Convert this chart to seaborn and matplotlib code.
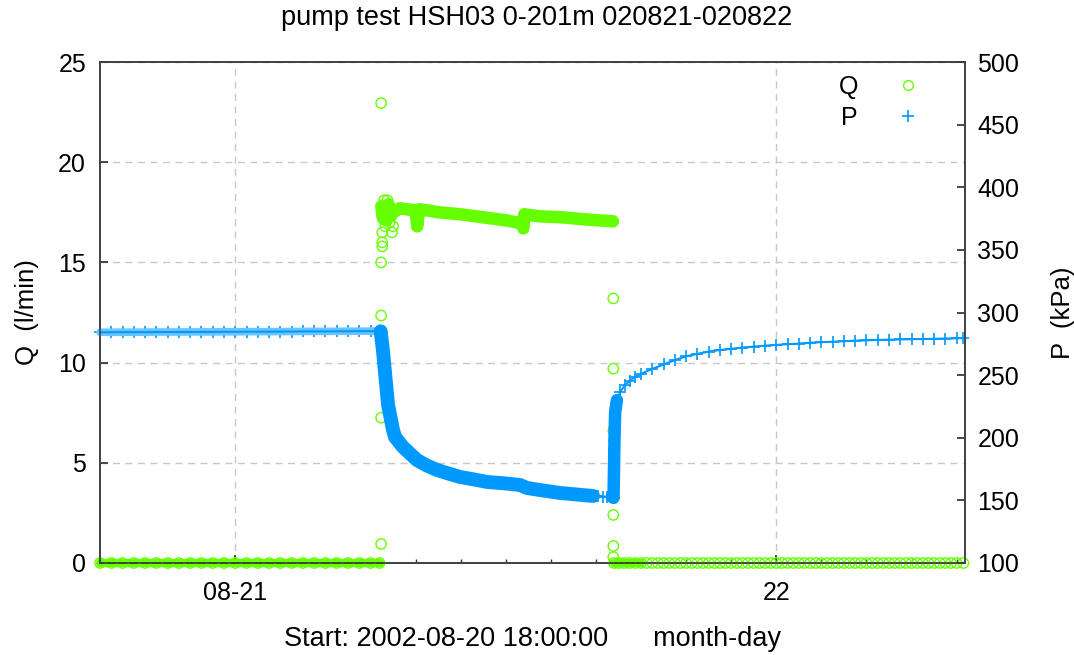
import matplotlib
matplotlib.use("Agg")
import numpy as np
import pandas as pd
import matplotlib.pyplot as plt
import seaborn as sns
from matplotlib.lines import Line2D
from matplotlib.ticker import MultipleLocator

# -------------------------------------------------
# Data, time in hours since 2002-08-20 18:00
# -------------------------------------------------

title = "pump test HSH03 0-201m 020821-020822"
tick_hours = [6, 30]
tick_labels = ["08-21", "22"]

# before pumping
hours_before = [0.0, 0.5, 1.0, 1.5, 2.0, 2.5, 3.0, 3.5, 4.0, 4.5, 5.0, 5.5, 6.0,
                6.5, 7.0, 7.5, 8.0, 8.5, 9.0, 9.5, 10.0, 10.5, 11.0, 11.5, 12.0, 12.4]
p_before = [284.2, 284.2, 284.3, 284.3, 284.3, 284.4, 284.4, 284.4, 284.5, 284.5,
            284.5, 284.6, 284.6, 284.7, 284.7, 284.7, 284.8, 284.8, 284.9, 284.9,
            284.9, 285.0, 285.0, 285.1, 285.1, 285.2]
q_before = [0, 0, 0, 0, 0, 0, 0, 0, 0, 0, 0, 0, 0,
            0, 0, 0, 0, 0, 0, 0, 0, 0, 0, 0, 0, 0]

# pumping: flow
hours_pumping = [12.48, 12.55, 12.6, 12.7, 12.8, 12.9, 13.0, 13.3, 13.6, 14.0, 14.07, 14.15,
                 14.5, 15.0, 16.0, 17.0, 18.0, 18.7, 18.78, 18.82, 19.5, 20.5, 21.5, 22.75]
q_pumping = [17.8, 17.2, 17.6, 17.1, 17.9, 17.3, 17.5, 17.7, 17.65, 17.6, 16.8, 17.65,
             17.6, 17.5, 17.4, 17.25, 17.1, 16.95, 16.7, 17.4, 17.3, 17.25, 17.15, 17.05]

# scattered flow readings at pump start / stop
hours_q_start = [12.47, 12.47, 12.47, 12.47, 12.47, 12.52, 12.52, 12.52, 12.6, 12.75,
                 12.95, 13.0, 12.65, 12.85]
q_start = [22.95, 15.0, 12.35, 7.25, 0.95, 16.0, 15.8, 16.5, 18.1, 18.1,
           16.5, 16.8, 16.8, 17.0]
hours_q_stop = [22.77, 22.77, 22.77, 22.77, 22.77, 22.77]
q_stop = [13.2, 9.7, 6.6, 2.4, 0.85, 0.3]

# pumping: drawdown
hours_drawdown = [12.45, 12.55, 12.64, 12.78, 13.0, 13.09, 13.44, 14.06, 14.5, 14.95,
                  15.5, 15.97, 16.5, 17.17, 18.0, 18.63, 18.94, 19.5, 20.41, 21.2, 21.87]
p_drawdown = [285.0, 270.0, 252.5, 226.0, 206.0, 200.5, 192.6, 182.2, 177.8, 174.3,
              171.2, 168.7, 167.0, 164.7, 163.5, 162.3, 159.9, 158.3, 155.9, 154.6, 153.5]
hours_late_pumping = [21.87, 22.1, 22.3, 22.5, 22.71]
p_late_pumping = [153.5, 153.2, 153.0, 152.9, 152.7]

# recovery
hours_rise = [22.71, 22.78, 22.80, 22.82, 22.85, 22.93]
p_rise = [152.7, 152.0, 175.0, 198.0, 220.0, 230.0]

hours_after = [22.93, 23.07, 23.29, 23.5, 23.73, 24.0, 24.5, 25.0, 25.5, 26.0, 26.5,
               27.0, 27.5, 28.0, 28.5, 29.0, 29.5, 30.0, 30.5, 31.0, 31.5, 32.0, 32.5,
               33.0, 33.5, 34.0, 34.5, 35.0, 35.5, 36.0, 36.5, 37.0, 37.5, 38.0, 38.3]
p_after = [230.0, 236.5, 242.0, 245.5, 248.5, 251.0, 255.0, 258.5, 262.0, 265.0, 267.0,
           268.8, 270.0, 271.0, 272.0, 272.8, 273.5, 274.1, 274.7, 275.2, 275.8, 276.3, 276.7,
           277.1, 277.5, 277.8, 278.1, 278.3, 278.5, 278.7, 278.8, 279.0, 279.2, 279.4, 279.6]

hours_q_after = [22.8, 23.0, 23.25, 23.5, 23.75, 24.0, 24.25, 24.5, 24.75, 25.0, 25.25,
                 25.5, 25.75, 26.0, 26.25, 26.5, 26.75, 27.0, 27.25, 27.5, 27.75, 28.0,
                 28.25, 28.5, 28.75, 29.0, 29.25, 29.5, 29.75, 30.0, 30.25, 30.5, 30.75,
                 31.0, 31.25, 31.5, 31.75, 32.0, 32.25, 32.5, 32.75, 33.0, 33.25, 33.5,
                 33.75, 34.0, 34.25, 34.5, 34.75, 35.0, 35.25, 35.5, 35.75, 36.0, 36.25,
                 36.5, 36.75, 37.0, 37.25, 37.5, 37.75, 38.0, 38.3]
q_after = [0, 0, 0, 0, 0, 0, 0, 0, 0, 0, 0,
           0, 0, 0, 0, 0, 0, 0, 0, 0, 0, 0,
           0, 0, 0, 0, 0, 0, 0, 0, 0, 0, 0,
           0, 0, 0, 0, 0, 0, 0, 0, 0, 0, 0,
           0, 0, 0, 0, 0, 0, 0, 0, 0, 0, 0,
           0, 0, 0, 0, 0, 0, 0, 0]

GREEN = "#66ff00"
BLUE = "#0099ff"

# -------------------------------------------------
# Figure
# -------------------------------------------------

sns.set_theme(style="white")
plt.rcParams["font.family"] = ["Liberation Sans", "DejaVu Sans"]
plt.rcParams["text.color"] = "black"
plt.rcParams["axes.labelcolor"] = "black"
plt.rcParams["xtick.color"] = "black"
plt.rcParams["ytick.color"] = "black"

fig = plt.figure(figsize=(10.74, 6.55), dpi=100)
ax = fig.add_axes([100 / 1074, 92 / 655, 865 / 1074, 501 / 655])
ax2 = ax.twinx()

q_before_df = pd.DataFrame({"hours": hours_before, "Q": q_before})
q_pump_df = pd.DataFrame({"hours": hours_pumping, "Q": q_pumping})
q_jump_df = pd.DataFrame({"hours": hours_q_start + hours_q_stop, "Q": q_start + q_stop})
q_after_df = pd.DataFrame({"hours": hours_q_after, "Q": q_after})
q_after_band = q_after_df[q_after_df["hours"] <= 24.0]

line_kw = dict(estimator=None, sort=False, legend=False, clip_on=False)
circle_kw = dict(marker="o", facecolor="none", edgecolor=GREEN, linewidth=1.0, s=55,
                 legend=False, clip_on=False, zorder=3)

# flow (left axis)
sns.lineplot(data=q_before_df, x="hours", y="Q", ax=ax, color=GREEN, lw=6, **line_kw)
sns.lineplot(data=q_pump_df, x="hours", y="Q", ax=ax, color=GREEN, lw=9, **line_kw)
sns.lineplot(data=q_after_band, x="hours", y="Q", ax=ax, color=GREEN, lw=6, **line_kw)
for d in (q_before_df, q_pump_df, q_jump_df, q_after_df):
    sns.scatterplot(data=d, x="hours", y="Q", ax=ax, **circle_kw)

# pressure (right axis)
p_before_df = pd.DataFrame({"hours": hours_before, "P": p_before})
p_thick = pd.DataFrame({"hours": hours_drawdown, "P": p_drawdown})
p_rise_df = pd.DataFrame({"hours": hours_rise, "P": p_rise})
p_all = pd.DataFrame({
    "hours": hours_before + hours_drawdown + hours_late_pumping + hours_rise + hours_after,
    "P": p_before + p_drawdown + p_late_pumping + p_rise + p_after,
})
sns.lineplot(data=p_before_df, x="hours", y="P", ax=ax2, color="#6cc4ff", lw=5.5, **line_kw)
sns.lineplot(data=p_thick, x="hours", y="P", ax=ax2, color=BLUE, lw=10, **line_kw)
sns.lineplot(data=p_rise_df, x="hours", y="P", ax=ax2, color=BLUE, lw=9, **line_kw)
sns.lineplot(data=p_all, x="hours", y="P", ax=ax2, color=BLUE, lw=1.5, **line_kw)
sns.scatterplot(data=p_all, x="hours", y="P", ax=ax2, marker="+", color=BLUE,
                linewidth=1.2, s=80, legend=False, clip_on=False)

# -------------------------------------------------
# Axes styling
# -------------------------------------------------

ax.set_xlim(0, 38.37)
ax.set_ylim(0, 25)
ax2.set_ylim(100, 500)
ax.set_xticks(tick_hours)
ax.set_xticklabels(tick_labels)
ax.xaxis.set_minor_locator(MultipleLocator(2))
ax.set_yticks([0, 5, 10, 15, 20, 25])
ax2.set_yticks([100, 150, 200, 250, 300, 350, 400, 450, 500])

ax.tick_params(axis="x", which="major", direction="in", length=6, pad=13,
               labelsize=18, bottom=True, color="#333333")
ax.tick_params(axis="x", which="minor", direction="in", length=3, bottom=True, color="#333333")
ax.tick_params(axis="y", direction="in", length=6, pad=10, labelsize=18, left=True,
               color="#333333")
ax2.tick_params(axis="y", direction="in", length=6, pad=9, labelsize=18, right=True,
                color="#333333")

ax.grid(True, which="major", linestyle=(0, (5, 4)), color="#c8c8c8", lw=1)
ax2.grid(False)
for a in (ax, ax2):
    for s in a.spines.values():
        s.set_color("#404040")
        s.set_linewidth(1.2)

ax.set_xlabel("Start: 2002-08-20 18:00:00      month-day", fontsize=19.5, labelpad=15)
ax.set_ylabel("Q  (l/min)", fontsize=18.5, labelpad=14)
ax2.set_ylabel("P  (kPa)", fontsize=18.5, labelpad=23, rotation=90)

fig.text(0.5, 1 - 18 / 655, title, ha="center", va="center", fontsize=19.5)

handles = [
    Line2D([], [], ls="none", marker="o", mfc="none", mec=GREEN, ms=7, mew=1.0),
    Line2D([], [], ls="none", marker="+", color=BLUE, ms=9, mew=1.2),
]
ax2.legend(handles, ["Q", "P"], loc="upper right", bbox_to_anchor=(0.963, 0.975),
           frameon=False, markerfirst=False, fontsize=18, handletextpad=1.0,
           labelspacing=0.3, borderaxespad=0, borderpad=0)

fig.savefig("out.png", dpi=100)
